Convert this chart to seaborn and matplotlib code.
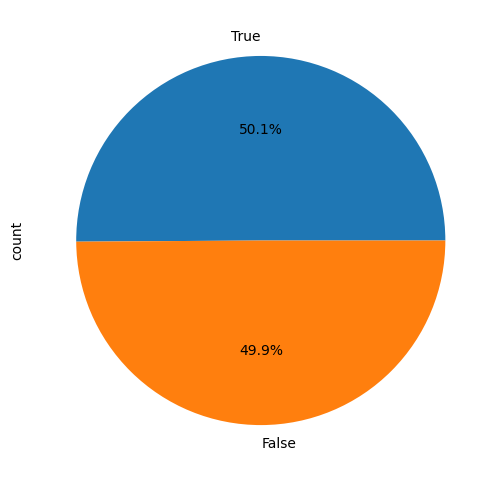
import pandas as pd
import numpy as np
import matplotlib
matplotlib.use('Agg')
import matplotlib.pyplot as plt
import seaborn as sns

# Category labels and their counts (50.1% / 49.9%)
labels = ['True', 'False']
counts = [501, 499]

colors = sns.color_palette('tab10', 2)

s = pd.Series(counts, index=labels, name='count')

fig, ax = plt.subplots(figsize=(5.01, 4.82), dpi=100)
# place the axes so the pie fills the figure like the reference
fig.subplots_adjust(left=0.06, right=0.981, bottom=0.022, top=0.98)
s.plot.pie(ax=ax, autopct='%1.1f%%', colors=colors)
ax.set_ylabel('count')
ax.yaxis.set_label_coords(-0.013, 0.5)

plt.savefig('out.png', dpi=100)
